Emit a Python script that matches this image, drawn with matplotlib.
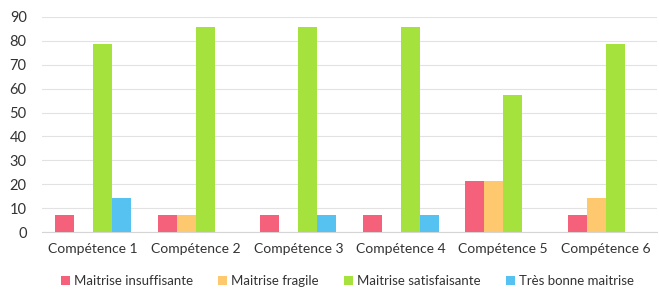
import numpy as np
import matplotlib.pyplot as plt

plt.rcParams['font.family'] = ['Lato', 'DejaVu Sans']

categories = ["Compétence 1", "Compétence 2", "Compétence 3",
              "Compétence 4", "Compétence 5", "Compétence 6"]
series_names = ["Maitrise insuffisante", "Maitrise fragile",
                "Maitrise satisfaisante", "Très bonne maitrise"]
insuffisante = [7.14, 7.14, 7.14, 7.14, 21.43, 7.14]
fragile = [0, 7.14, 0, 0, 21.43, 14.29]
satisfaisante = [78.57, 85.71, 85.71, 85.71, 57.14, 78.57]
tres_bonne = [14.29, 0, 7.14, 7.14, 0, 0]
yticks = [0, 10, 20, 30, 40, 50, 60, 70, 80, 90]

colors = ["#f5617a", "#fdc86e", "#a5e23e", "#55c2f2"]
series = [insuffisante, fragile, satisfaisante, tres_bonne]

fig = plt.figure(figsize=(6.59, 2.9), dpi=100)
ax = fig.add_axes([42 / 659, 58 / 290, 615 / 659, 215 / 290])

x = np.arange(len(categories))
w = 0.185
for i, (vals, name, c) in enumerate(zip(series, series_names, colors)):
    ax.bar(x + (i - 1.5) * w, vals, width=w, color=c, label=name, zorder=3)

ax.set_xlim(-0.5, 5.5)
ax.set_ylim(0, 90)
ax.set_yticks(yticks)
ax.set_xticks(x)
ax.set_xticklabels(categories)
ax.grid(axis="y", color="#e2e2e2", linewidth=0.8, zorder=0)
for s in ["top", "right", "left"]:
    ax.spines[s].set_visible(False)
ax.spines["bottom"].set_color("#d5d5d5")
ax.tick_params(axis="both", length=0, labelsize=10, colors="#333333")
ax.tick_params(axis="x", pad=8)
ax.tick_params(axis="y", pad=11, labelsize=10.5)

fig.legend(loc="center", bbox_to_anchor=(0.527, 0.03), ncol=4, frameon=False,
           fontsize=9.5, handlelength=0.7, handleheight=0.7, handletextpad=0.3,
           columnspacing=1.9, labelcolor="#333333")

fig.savefig("out.png", dpi=100)
